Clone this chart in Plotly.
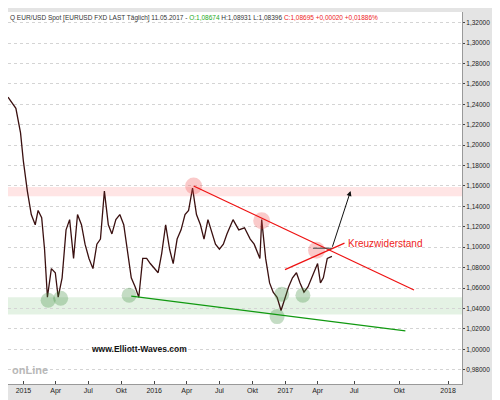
import plotly.graph_objects as go

# EUR/USD daily close (roughly every 1.5 weeks)
dates = [
    "2014-11-19", "2014-12-11", "2014-12-24", "2015-01-01", "2015-01-12", "2015-01-23",
    "2015-02-03", "2015-02-11", "2015-02-21", "2015-03-01", "2015-03-09", "2015-03-20",
    "2015-03-31", "2015-04-08", "2015-04-19", "2015-04-30", "2015-05-10", "2015-05-21",
    "2015-06-01", "2015-06-12", "2015-06-22", "2015-07-03", "2015-07-14", "2015-07-25",
    "2015-08-04", "2015-08-15", "2015-08-26", "2015-09-05", "2015-09-16", "2015-09-27",
    "2015-10-08", "2015-10-18", "2015-10-29", "2015-11-09", "2015-11-19", "2015-11-30",
    "2015-12-11", "2015-12-21", "2016-01-01", "2016-01-12", "2016-01-22", "2016-02-02",
    "2016-02-13", "2016-02-23", "2016-03-05", "2016-03-16", "2016-03-27", "2016-04-06",
    "2016-04-17", "2016-04-28", "2016-05-09", "2016-05-19", "2016-05-30", "2016-06-10",
    "2016-06-20", "2016-07-01", "2016-07-12", "2016-07-22", "2016-08-08", "2016-08-24",
    "2016-09-09", "2016-09-25", "2016-10-06", "2016-10-22", "2016-10-27", "2016-11-07",
    "2016-11-18", "2016-11-28", "2016-12-09", "2016-12-20", "2016-12-31", "2017-01-10",
    "2017-01-21", "2017-02-01", "2017-02-11", "2017-02-22", "2017-03-05", "2017-03-16",
    "2017-03-26", "2017-04-01", "2017-04-09", "2017-04-17", "2017-04-28", "2017-05-11",
]
close = [
    1.247, 1.236, 1.212, 1.184, 1.155, 1.132, 1.122, 1.136, 1.129, 1.098, 1.051, 1.079,
    1.075, 1.051, 1.070, 1.117, 1.127, 1.089, 1.132, 1.122, 1.103, 1.089, 1.079, 1.103,
    1.108, 1.155, 1.122, 1.113, 1.127, 1.132, 1.122, 1.098, 1.070, 1.061, 1.051, 1.089,
    1.089, 1.084, 1.079, 1.075, 1.094, 1.122, 1.098, 1.084, 1.108, 1.117, 1.132, 1.136,
    1.158, 1.132, 1.122, 1.108, 1.127, 1.113, 1.103, 1.098, 1.103, 1.113, 1.127, 1.117,
    1.119, 1.108, 1.103, 1.089, 1.127, 1.089, 1.065, 1.056, 1.051, 1.038, 1.051, 1.061,
    1.070, 1.075, 1.065, 1.056, 1.061, 1.070, 1.079, 1.084, 1.065, 1.070, 1.089, 1.091,
]

green_dates = ["2015-03-11", "2015-04-15", "2015-10-23", "2016-12-22", "2016-12-09", "2017-02-19"]
green_vals = [1.048, 1.050, 1.053, 1.054, 1.032, 1.053]
red_dates = ["2016-04-20", "2016-10-27", "2017-03-29"]
red_vals = [1.160, 1.126, 1.097]

y_ticks = [0.98 + 0.02 * i for i in range(18)]
x_tickvals = ["2015-01-01", "2015-04-01", "2015-07-01", "2015-10-01", "2016-01-01", "2016-04-01",
              "2016-07-01", "2016-10-01", "2017-01-01", "2017-04-01", "2017-07-12", "2017-11-15",
              "2018-03-31"]
x_ticktext = ["2015", "Apr", "Jul", "Okt", "2016", "Apr", "Jul", "Okt", "2017", "Apr", "Jul", "Okt", "2018"]

fig = go.Figure()
fig.add_trace(go.Scatter(x=dates, y=close, mode="lines", line=dict(color="#3a1010", width=1.3),
                         hoverinfo="skip"))
fig.add_trace(go.Scatter(x=green_dates, y=green_vals, mode="markers",
                         marker=dict(size=15, color="rgba(60,140,60,0.3)")))
fig.add_trace(go.Scatter(x=red_dates, y=red_vals, mode="markers",
                         marker=dict(size=17, color="rgba(240,80,80,0.3)")))

# bands
fig.add_hrect(y0=1.150, y1=1.159, fillcolor="rgba(255,150,150,0.25)", line_width=0, layer="below")
fig.add_hrect(y0=1.034, y1=1.051, fillcolor="rgba(120,190,120,0.2)", line_width=0, layer="below")
# trend lines
fig.add_shape(type="line", x0="2016-04-20", y0=1.160, x1="2017-12-26", y1=1.058,
              line=dict(color="#ee1111", width=1.2))
fig.add_shape(type="line", x0="2016-12-31", y0=1.078, x1="2017-06-15", y1=1.104,
              line=dict(color="#ee1111", width=1.2))
fig.add_shape(type="line", x0="2017-03-19", y0=1.099, x1="2017-05-11", y1=1.099,
              line=dict(color="#444", width=1))
fig.add_shape(type="line", x0="2015-10-29", y0=1.052, x1="2017-12-02", y1=1.018,
              line=dict(color="#119911", width=1.2))
fig.add_annotation(x="2017-07-02", y=1.155, ax="2017-05-11", ay=1.099, xref="x", yref="y",
                   axref="x", ayref="y", showarrow=True, arrowhead=2, arrowsize=1,
                   arrowwidth=1, arrowcolor="#111", text="")
fig.add_annotation(x="2017-06-20", y=1.104, text="Kreuzwiderstand", showarrow=False,
                   xanchor="left", font=dict(color="#ee2222", size=10))
fig.add_annotation(x="2015-11-20", y=1.000, text="<b>www.Elliott-Waves.com</b>", showarrow=False,
                   font=dict(color="#111", size=8.5))
fig.add_annotation(xref="paper", yref="paper", x=0.005, y=0.015, text="<b>onLine</b>",
                   showarrow=False, xanchor="left", yanchor="bottom",
                   font=dict(color="#b8b8b8", size=11))
fig.add_annotation(
    xref="paper", yref="paper", x=0.0, y=1.0, xanchor="left", yanchor="top", showarrow=False,
    text="Q EUR/USD Spot [EURUSD FXD LAST Täglich] 11.05.2017 - "
         "<span style='color:#22aa22'>O:1,08674</span> H:1,08931 L:1,08396 "
         "<span style='color:#ee2222'>C:1,08695 +0,00020 +0,01886%</span>",
    font=dict(size=6.5, color="#333"))

fig.update_layout(
    width=490, height=392, margin=dict(l=0, r=36, t=4, b=16),
    paper_bgcolor="#e4e4e4", plot_bgcolor="white", showlegend=False,
    font=dict(family="Liberation Sans, Arial", size=7, color="#222"),
    xaxis=dict(range=["2014-11-19", "2018-05-09"], tickvals=x_tickvals, ticktext=x_ticktext,
               showgrid=False, ticks="inside", ticklen=3, tickfont=dict(size=7),
               showline=True, linecolor="#999"),
    yaxis=dict(side="right", range=[0.966, 1.3304], tickvals=y_ticks,
               ticktext=[f"{v:.5f}".replace(".", ",") for v in y_ticks],
               gridcolor="#d4d4d4", griddash="dot", gridwidth=1, ticks="outside", ticklen=2,
               tickfont=dict(size=6.5), showline=True, linecolor="#999", zeroline=False),
)

fig.write_html("out.html")
